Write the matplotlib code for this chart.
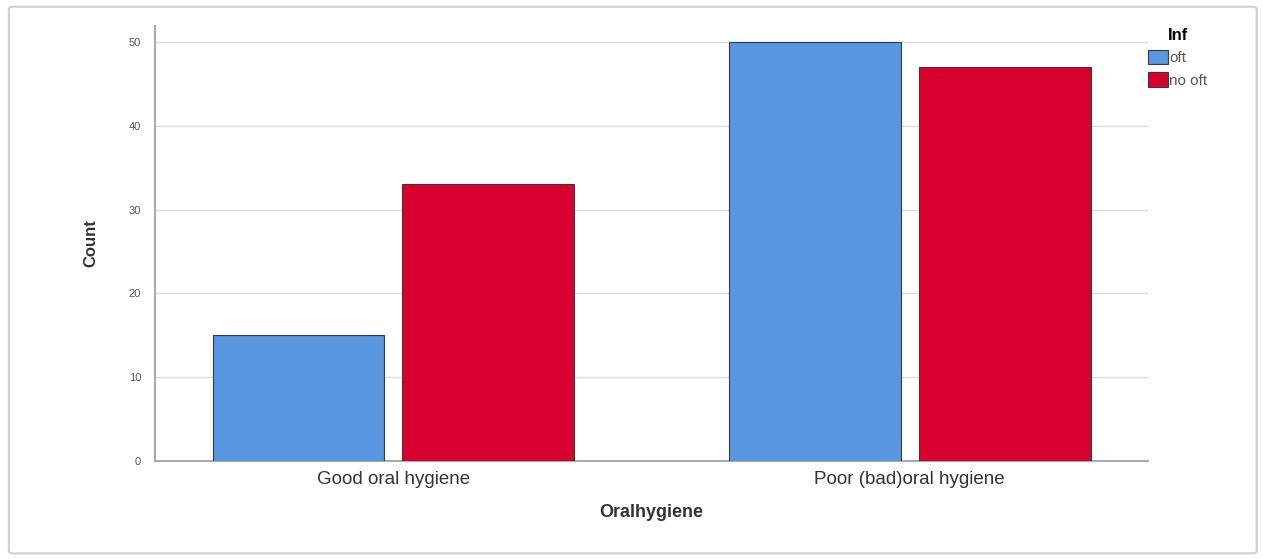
import matplotlib
matplotlib.use("Agg")
import matplotlib.pyplot as plt
import numpy as np
from matplotlib.patches import FancyBboxPatch

# data
categories = ["Good oral hygiene", "Poor (bad)oral hygiene"]
series_names = ["oft", "no oft"]
oft_counts = [15, 50]
no_oft_counts = [33, 47]
yticks = [0, 10, 20, 30, 40, 50]

colors = ["#5A97E3", "#D7002F"]

plt.rcParams['font.family'] = ['Liberation Sans', 'DejaVu Sans']

fig = plt.figure(figsize=(12.63, 5.59), dpi=100)
ax = fig.add_axes([0.1227, 0.1753, 0.7863, 0.778])

# light frame round the whole picture
frame = FancyBboxPatch((0.007, 0.01), 0.988, 0.978, boxstyle="round,pad=0,rounding_size=0.004",
                       transform=fig.transFigure, fill=False, edgecolor="#cfcfcf", linewidth=1.5)
fig.patches.append(frame)

x = np.arange(len(categories))
w = 0.333
off = 0.184
ax.bar(x - off, oft_counts, w, color=colors[0], edgecolor="#3a3a3a", linewidth=0.8, label=series_names[0], zorder=3)
ax.bar(x + off, no_oft_counts, w, color=colors[1], edgecolor="#3a3a3a", linewidth=0.8, label=series_names[1], zorder=3)

ax.set_xlim(-0.462, 1.462)
ax.set_ylim(0, 51.9)
ax.set_yticks(yticks)
ax.set_xticks(x)
ax.set_xticklabels(categories, fontsize=13.5, color="#333333")
ax.tick_params(axis="y", labelsize=8, colors="#555555", length=0, pad=10)
ax.tick_params(axis="x", length=0, pad=7)
ax.yaxis.grid(True, color="#dddddd", linewidth=1, zorder=0)

for s in ["top", "right"]:
    ax.spines[s].set_visible(False)
for s in ["left", "bottom"]:
    ax.spines[s].set_color("#aaaaaa")
    ax.spines[s].set_linewidth(1.5)

ax.set_ylabel("Count", fontsize=12, fontweight="bold", color="#333333", labelpad=22)
ax.set_xlabel("Oralhygiene", fontsize=13, fontweight="bold", color="#333333", labelpad=12)

leg = fig.legend(loc="upper left", bbox_to_anchor=(0.909, 0.95), frameon=False,
                 title="Inf", fontsize=11, handlelength=1.3, handleheight=1.1,
                 handletextpad=0.1, labelspacing=0.45, borderaxespad=0, borderpad=0)
leg.get_title().set_fontweight("bold")
leg.get_title().set_fontsize(12)
for t in leg.get_texts():
    t.set_color("#555555")

fig.savefig("out.png", dpi=100)
